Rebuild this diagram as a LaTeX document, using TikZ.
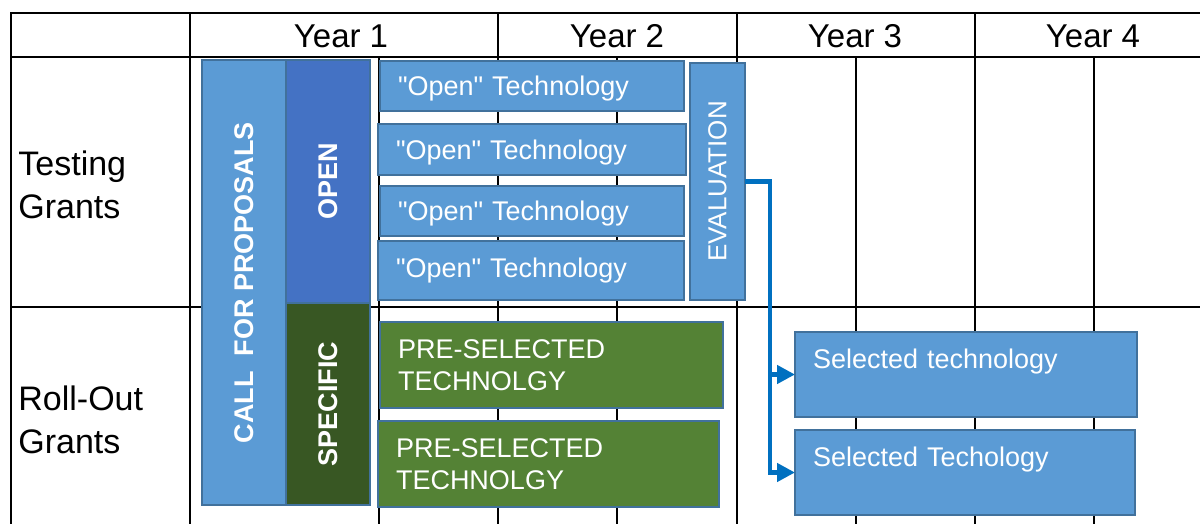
\documentclass[tikz,border=0pt]{standalone}
\usepackage{fontspec}
\setmainfont{Liberation Sans}
\usepackage{graphicx}
\usepackage{tikz}
\usetikzlibrary{arrows.meta,positioning}

\definecolor{lightblue}{HTML}{5B9BD5}
\definecolor{darkblue}{HTML}{4472C4}
\definecolor{darkgreen}{HTML}{385723}
\definecolor{midgreen}{HTML}{548235}
\definecolor{edgeblue}{HTML}{41719C}
\definecolor{flowblue}{HTML}{0070C0}

\newcommand{\uptext}[1]{\rotatebox{90}{#1}}
\newcommand{\opentech}{\textquotedbl Open\textquotedbl\ Technology}

\begin{document}
\begin{tikzpicture}[
    x=0.5pt, y=-0.5pt,
    grid/.style={line width=1pt, black},
    yearlbl/.style={anchor=base, font=\fontsize{16.5}{19}\selectfont},
    rowlbl/.style={anchor=west, align=left, inner xsep=3.5pt, inner ysep=0pt, font=\fontsize{17}{21.5}\selectfont},
    box/.style={draw=edgeblue, line width=0.8pt, text=white, inner sep=0pt, outer sep=0pt},
    techbox/.style={box, fill=lightblue, anchor=north west, inner xsep=9pt, align=left, font=\fontsize{13.5}{16}\selectfont},
    vbox/.style={box, anchor=north west, minimum width=42pt, font=\bfseries\fontsize{13.5}{16}\selectfont},
    flow/.style={draw=flowblue, line width=2.2pt, -{Triangle[length=9pt,width=9pt]}}
]
    \useasboundingbox (0,0) rectangle (1200,524);

    % table
    \draw[grid] (11,524) -- (11,13) -- (1200,13);
    \draw[grid] (11,57) -- (1200,57);
    \draw[grid] (11,307) -- (1200,307);
    \foreach \gx in {190,498,737,975} \draw[grid] (\gx,13) -- (\gx,524);
    \foreach \gx in {379,617,856,1094} \draw[grid] (\gx,57) -- (\gx,524);

    \foreach \yr/\cx in {1/341,2/617,3/855,4/1093}
        \node[yearlbl] (yr\yr) at (\cx,48) {Year \yr};
    \node[rowlbl] (testing) at (11,184.5) {Testing\\Grants};
    \node[rowlbl] (rollout) at (11,419.5) {Roll-Out\\Grants};

    % call for proposals
    \node[vbox, fill=lightblue, minimum height=222.5pt] (call) at (202,60) {\uptext{CALL\ \ FOR PROPOSALS}};
    \node[vbox, fill=darkblue, minimum height=121.5pt] (open) at (call.north east) {\uptext{OPEN}};
    \node[vbox, fill=darkgreen, minimum height=101pt] (specific) at (open.south west) {\uptext{SPECIFIC}};

    % testing grants
    \node[techbox, text width=134pt, minimum height=25pt, text depth=0pt] (open1) at (380,61) {\opentech};
    \node[techbox, text width=136pt, minimum height=25.5pt, text depth=0pt] (open2) at (378,124) {\opentech};
    \node[techbox, text width=134pt, minimum height=25pt, text depth=0pt] (open3) at (380,186) {\opentech};
    \node[techbox, text width=135pt, minimum height=29.5pt] (open4) at (378,241) {\opentech};
    \node[box, fill=lightblue, anchor=north west, minimum width=27.5pt, minimum height=118.5pt,
          font=\fontsize{13}{15}\selectfont] (eval) at (690,63) {\uptext{EVALUATION}};

    % roll-out grants
    \node[techbox, fill=midgreen, text width=153.5pt, minimum height=43pt] (presel1) at (380,322) {PRE-SELECTED\\TECHNOLGY};
    \node[techbox, fill=midgreen, text width=152.5pt, minimum height=43pt] (presel2) at (378,421) {PRE-SELECTED\\TECHNOLGY};
    \node[techbox, text width=153pt, minimum height=42.5pt] (sel1) at (795,332) {Selected technology\\\mbox{}};
    \node[techbox, text width=152pt, minimum height=42.5pt] (sel2) at (795,430) {Selected Techology\\\mbox{}};

    \coordinate (split) at (770,0);
    \draw[flow] (eval.east) -| (split |- sel2.west) -- (sel2.west);
    \draw[flow] (split |- sel1.west) -- (sel1.west);
\end{tikzpicture}
\end{document}
